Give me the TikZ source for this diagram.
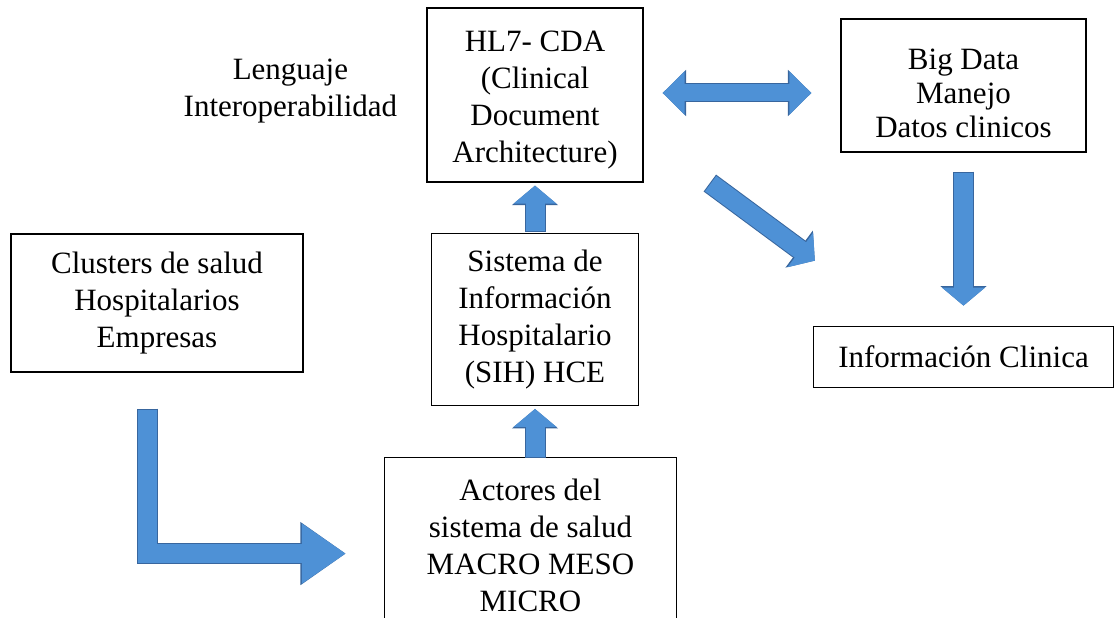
\documentclass[tikz,border=0pt]{standalone}
\usepackage{fontspec}
\setmainfont{Liberation Serif}
\usepackage{pgf, tikz}
\usetikzlibrary{arrows.meta, positioning}

\definecolor{arrowfill}{RGB}{78,145,214}
\definecolor{arrowedge}{RGB}{56,102,158}

\begin{document}
\begin{tikzpicture}[
            x = 1pt, y = 1pt, % one unit per pixel of the page
            line join = miter, % sharp corner on the bent arrow
            font = \fontsize{31}{37}\selectfont
        ]

        \tikzstyle{box}=[
            draw = black,
            line width = 1.3pt,
            fill = white,
            align = center,
            inner sep = 0pt
        ]
        \tikzstyle{txt}=[
            align = center,
            inner sep = 0pt
        ]
        \tikzstyle{blk}=[
            draw = arrowfill,
            line width = 19pt,
            -{Triangle[length=18pt,width=42pt]},
            preaction = {draw = arrowedge, line width = 21pt, shorten < = -1pt,
                -{Triangle[length=19.5pt,width=45pt]}}
        ]
        \tikzstyle{blkboth}=[
            draw = arrowfill,
            line width = 17pt,
            {Triangle[length=22pt,width=42pt]}-{Triangle[length=22pt,width=42pt]},
            preaction = {draw = arrowedge, line width = 19pt,
                {Triangle[length=23.5pt,width=45pt]}-{Triangle[length=23.5pt,width=45pt]}}
        ]
        \tikzstyle{blkbig}=[
            draw = arrowfill,
            line width = 19pt,
            -{Triangle[length=44pt,width=57pt]},
            preaction = {draw = arrowedge, line width = 21pt, shorten < = -1pt,
                -{Triangle[length=45.5pt,width=60pt]}}
        ]

        \useasboundingbox[fill = white] (0,0) rectangle (1119,618);

        % framed boxes
        \node[box, minimum width = 216pt, minimum height = 174pt] (hl7) at (535,523) {};
        \node[txt] (hl7txt) [below = 5pt of hl7.center, anchor = center]
            {HL7- CDA\\(Clinical\\Document\\Architecture)};
        \node[box, minimum width = 245pt, minimum height = 133pt] (bigd) at (963.5,532.5) {};
        \node[txt, font = \fontsize{31}{34}\selectfont] (bigdtxt)
            [below = 8pt of bigd.center, anchor = center]
            {Big Data\\Manejo\\Datos clinicos};
        \node[txt] (lang) [left = 29pt of hl7, yshift = 3.5pt]
            {Lenguaje\\Interoperabilidad};
        \node[box, minimum width = 207pt, minimum height = 172pt] (sih) [below = 50pt of hl7]
            {Sistema de\\Información\\Hospitalario\\(SIH) HCE};
        \node[box, minimum width = 292pt, minimum height = 175pt] (act)
            [below = 51pt of sih, xshift = -4.5pt]
            {Actores del\\sistema de salud\\MACRO MESO\\MICRO};
        \node[box, minimum width = 292pt, minimum height = 138pt] (clus) at (157,315)
            {Clusters de salud\\Hospitalarios\\Empresas};
        \node[box, minimum width = 300pt, minimum height = 61pt] (info) [below = 173pt of bigd]
            {Información Clinica};

        \coordinate (dstart) at ([xshift = 19pt, yshift = 2pt]hl7.east);
        \coordinate (lstart) at ([xshift = -9.5pt, yshift = -37pt]clus.south);
        \coordinate (ltip) at ([xshift = -38pt, yshift = -8.5pt]act.west);

        % block arrows
        \draw[blkboth] (dstart) -- ([xshift = -29pt]bigd.west |- dstart);
        \draw[blk] ([yshift = 2pt]sih.north) -- ([yshift = -3pt]hl7.south);
        \draw[blk] (act.north -| sih.south) -- ([yshift = -3pt]sih.south);
        \draw[blk] ([yshift = -20pt]bigd.south) -- ([yshift = 20pt]info.north);
        \draw[blk] ([shift = {(67,-1)}]hl7.south east) -- ([shift = {(2,65)}]info.north west);
        \draw[blkbig] (lstart) |- (ltip);

    \end{tikzpicture}
\end{document}
